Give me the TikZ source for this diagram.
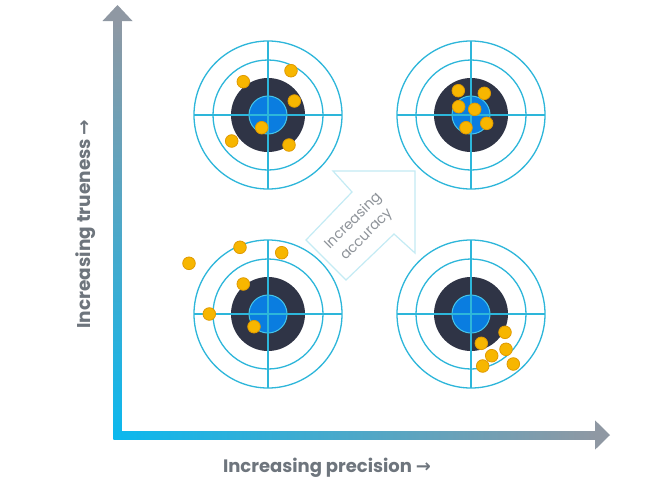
\documentclass[tikz,border=0pt]{standalone}
\usepackage{fontspec}
\setmainfont{Poppins}
\newfontfamily\arrfont{DejaVu Sans}
\definecolor{axcyan}{HTML}{0BB8EE}
\definecolor{axgray}{HTML}{8F98A3}
\definecolor{ringc}{HTML}{2DB6DA}
\definecolor{darkc}{HTML}{2F3446}
\definecolor{bluec}{HTML}{0A7DE0}
\definecolor{bluerim}{HTML}{45C6EA}
\definecolor{dotfill}{HTML}{F7B600}
\definecolor{dotedge}{HTML}{E09A00}
\definecolor{labelgray}{HTML}{6E757D}
\definecolor{acctext}{HTML}{8E9399}
\definecolor{accedge}{HTML}{C4EBF4}
\tikzset{
  ring/.style={draw=ringc, line width=1.3pt},
  shot/.style={fill=dotfill, draw=dotedge, line width=0.8pt},
  axlabel/.style={font=\fontsize{18}{21}\selectfont\bfseries, text=labelgray, inner sep=0pt},
  acclabel/.style={font=\fontsize{14}{19}\selectfont, text=acctext, align=center, inner sep=0pt},
  target/.pic={
    \draw[ring] (0,0) circle (74);
    \draw[ring] (0,0) circle (55);
    \fill[darkc] (0,0) circle (37);
    \filldraw[fill=bluec, draw=bluerim, line width=1pt] (0,0) circle (19);
    \draw[ring] (-74,0) -- (74,0) (0,-74) -- (0,74);
  }
}
\begin{document}
\begin{tikzpicture}[x=1pt,y=-1pt]
\useasboundingbox[fill=white] (0,0) rectangle (656,485);
% axes
\coordinate (O) at (117.5,435);
\coordinate (ytip) at (117.5,5);
\coordinate (xtip) at (610,435);
\shade[top color=axgray, bottom color=axcyan] (113.5,439) rectangle (121.5,20);
\shade[left color=axcyan, right color=axgray] (113.5,431) rectangle (596,439);
\fill[axgray] (ytip) -- (132.5,21) -- (102.5,21) -- cycle;
\fill[axgray] (xtip) -- (595,449.7) -- (595,420.3) -- cycle;
% targets
\pic at (268,115) {target};
\pic at (471,115) {target};
\pic at (268,314) {target};
\pic at (471,314) {target};
% shots: low precision, high trueness
\foreach \p in {(243.3,81.7),(291,70.7),(294.3,101),(261.7,127.7),(231.7,141),(289,145)}
  \path[shot] \p circle (6.3);
% high precision, high trueness
\foreach \p in {(458.3,90.7),(484.3,93.3),(458.7,106.7),(474.7,109.3),(486.7,123.3),(466,127.7)}
  \path[shot] \p circle (6.3);
% low precision, low trueness
\foreach \p in {(189,263.3),(240,247.3),(281.7,252.7),(243.3,284),(209.3,314),(254,326.7)}
  \path[shot] \p circle (6.3);
% high precision, low trueness
\foreach \p in {(505,332.3),(481.3,343.3),(506,349.3),(491.7,355.7),(482.7,366),(513.3,364)}
  \path[shot] \p circle (6.3);
% accuracy arrow
\filldraw[fill=white, draw=accedge, line width=1.2pt, line join=miter]
  (333,171) -- (415,171) -- (415,253) -- (394,234) -- (346,280) -- (306,240) -- (352,192) -- cycle;
\node[acclabel, rotate=45] (acc) at (360,228) {Increasing\\accuracy};
% axis labels
\node[axlabel, rotate=90, font=\fontsize{18.5}{21}\selectfont\bfseries] (ylab) at (85.5,224) {Increasing trueness {\arrfont\bfseries →}};
\node[axlabel] (xlab) at (327,468) {Increasing precision {\arrfont\bfseries →}};
\end{tikzpicture}
\end{document}
